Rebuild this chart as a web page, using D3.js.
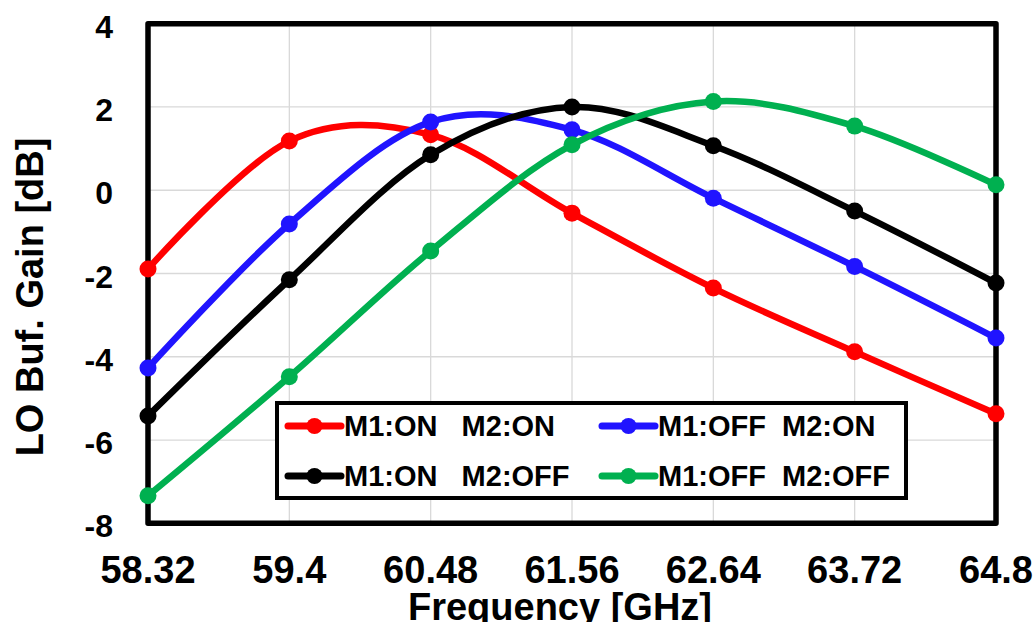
<!DOCTYPE html>
<html>
<head>
<meta charset="utf-8">
<script src="https://cdn.jsdelivr.net/npm/d3@7"></script>
<style>
    body { margin: 0; background: white; }
    text { font-family: "Liberation Sans", Arial, sans-serif; font-weight: bold; fill: black; }
</style>
</head>
<body>
<svg id="chart"></svg>
<script>
// frequency points (GHz)
var freqs = ['58.32', '59.4', '60.48', '61.56', '62.64', '63.72', '64.8'];
var yTicks = [-8, -6, -4, -2, 0, 2, 4];

var seriesNames = ['M1:ON   M2:ON', 'M1:OFF  M2:ON', 'M1:ON   M2:OFF', 'M1:OFF  M2:OFF'];
var seriesColors = ['#ff0000', '#2014ff', '#000000', '#00b050'];

var onOn = [-1.89, 1.18, 1.33, -0.55, -2.35, -3.88, -5.37];
var offOn = [-4.27, -0.81, 1.64, 1.45, -0.19, -1.83, -3.55];
var onOff = [-5.42, -2.15, 0.85, 2.0, 1.07, -0.5, -2.23];
var offOff = [-7.34, -4.48, -1.46, 1.09, 2.13, 1.54, 0.13];

var seriesValues = [onOn, offOn, onOff, offOff];

const width = 1035;
const height = 622;
const plot = { left: 148, right: 996, top: 23.7, bottom: 523.3 };

var svg = d3.select('#chart').attr('width', width).attr('height', height);

var x = d3.scalePoint().domain(freqs).range([plot.left, plot.right]);
var y = d3.scaleLinear().domain([-8, 4]).range([plot.bottom, plot.top]);

// grid lines
var grid = svg.append('g').attr('class', 'grid');
grid.selectAll('line.h')
    .data(yTicks)
    .enter()
    .append('line')
    .attr('x1', plot.left)
    .attr('x2', plot.right)
    .attr('y1', (d) => y(d))
    .attr('y2', (d) => y(d))
    .style('stroke', '#d9d9d9')
    .style('stroke-width', 1.3);
grid.selectAll('line.v')
    .data(freqs)
    .enter()
    .append('line')
    .attr('x1', (d) => x(d))
    .attr('x2', (d) => x(d))
    .attr('y1', plot.top)
    .attr('y2', plot.bottom)
    .style('stroke', '#d9d9d9')
    .style('stroke-width', 1.3);

// plot frame
svg.append('rect')
    .attr('x', plot.left)
    .attr('y', plot.top)
    .attr('width', plot.right - plot.left)
    .attr('height', plot.bottom - plot.top)
    .style('fill', 'none')
    .style('stroke', 'black')
    .style('stroke-width', 5.5)
    .style('stroke-linejoin', 'round');

// tick labels
svg.append('g')
    .selectAll('text')
    .data(yTicks)
    .enter()
    .append('text')
    .attr('x', 113)
    .attr('y', (d) => y(d) + 14)
    .attr('text-anchor', 'end')
    .style('font-size', '32px')
    .text((d) => d);

svg.append('g')
    .selectAll('text')
    .data(freqs)
    .enter()
    .append('text')
    .attr('x', (d) => x(d))
    .attr('y', 583)
    .attr('text-anchor', 'middle')
    .style('font-size', '38px')
    .text((d) => d);

// axis titles
svg.append('text')
    .attr('x', 560)
    .attr('y', 620)
    .attr('text-anchor', 'middle')
    .style('font-size', '38px')
    .text('Frequency [GHz]');

svg.append('text')
    .attr('transform', 'translate(43,297) rotate(-90)')
    .attr('text-anchor', 'middle')
    .style('font-size', '38px')
    .text('LO Buf. Gain [dB]');

// series
var line = d3
    .line()
    .x((d, i) => x(freqs[i]))
    .y((d) => y(d))
    .curve(d3.curveCardinal.tension(0));

seriesValues.forEach(function (values, k) {
    var g = svg.append('g');
    g.append('path')
        .attr('d', line(values))
        .style('fill', 'none')
        .style('stroke', seriesColors[k])
        .style('stroke-width', 6.5)
        .style('stroke-linejoin', 'round');
    g.selectAll('circle')
        .data(values)
        .enter()
        .append('circle')
        .attr('cx', (d, i) => x(freqs[i]))
        .attr('cy', (d) => y(d))
        .attr('r', 8.5)
        .style('fill', seriesColors[k]);
});

// legend
var legend = svg.append('g');
legend.append('rect')
    .attr('x', 277)
    .attr('y', 403)
    .attr('width', 629)
    .attr('height', 95)
    .style('fill', 'white')
    .style('stroke', 'black')
    .style('stroke-width', 4);

var legendCols = [288, 602];
var legendRows = [426, 476];

seriesNames.forEach(function (name, k) {
    var lx = legendCols[k % 2];
    var ly = legendRows[Math.floor(k / 2)];
    legend.append('line')
        .attr('x1', lx)
        .attr('x2', lx + 53)
        .attr('y1', ly)
        .attr('y2', ly)
        .style('stroke', seriesColors[k])
        .style('stroke-width', 7)
        .style('stroke-linecap', 'round');
    legend.append('circle')
        .attr('cx', lx + 26.5)
        .attr('cy', ly)
        .attr('r', 8)
        .style('fill', seriesColors[k]);
    legend.append('text')
        .attr('x', lx + 56)
        .attr('y', ly + 10)
        .attr('xml:space', 'preserve')
        .style('white-space', 'pre')
        .style('font-size', '29px')
        .text(name);
});
</script>
</body>
</html>
